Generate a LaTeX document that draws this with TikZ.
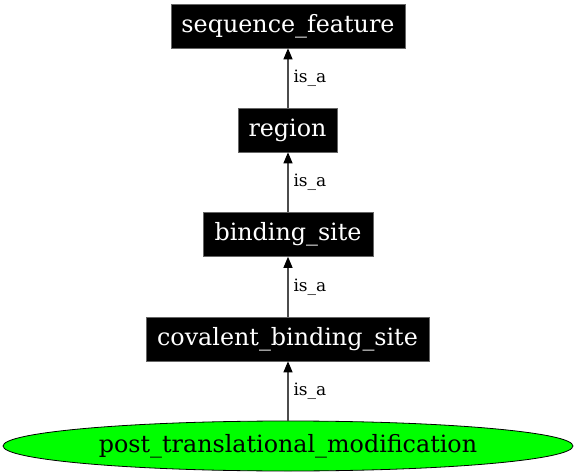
\documentclass[tikz,border=0pt]{standalone}
\usepackage{fontspec}
\setmainfont{DejaVu Serif}
\usetikzlibrary{shapes.geometric,arrows.meta}
\begin{document}
\begin{tikzpicture}[x=1pt,y=-1pt,
  termbox/.style={rectangle,fill=black,draw=black!60,line width=0.6pt,text=white,inner sep=0pt,minimum height=44pt,font=\fontsize{23.8}{26}\selectfont},
  rootell/.style={ellipse,fill=green,draw=black,line width=0.8pt,inner sep=0pt,minimum width=570pt,minimum height=50pt,font=\fontsize{23.8}{26}\selectfont},
  isa/.style={draw=black!70,line width=1.1pt,-{Triangle[length=11pt,width=9pt,fill=black,color=black]}},
  elabel/.style={font=\fontsize{17}{19}\selectfont,anchor=west,inner sep=0pt,xshift=5pt}]
\useasboundingbox (0,0) rectangle (576,476);
\node[termbox,minimum width=234pt] (sf) at (288,26) {sequence\_feature};
\node[termbox,minimum width=99pt] (rg) at (287.5,130) {region};
\node[termbox,minimum width=170pt] (bs) at (288,234.5) {binding\_site};
\node[termbox,minimum width=283pt] (cbs) at (287.5,339) {covalent\_binding\_site};
\node[rootell] (ptm) at (288,446) {post\_translational\_modification};
\draw[isa] (rg.north -| sf.south) -- node[elabel]{is\_a} (sf.south);
\draw[isa] (bs.north -| sf.south) -- node[elabel]{is\_a} (rg.south -| sf.south);
\draw[isa] (cbs.north -| sf.south) -- node[elabel]{is\_a} (bs.south -| sf.south);
\draw[isa] (ptm.north -| sf.south) -- node[elabel]{is\_a} (cbs.south -| sf.south);
\end{tikzpicture}
\end{document}
